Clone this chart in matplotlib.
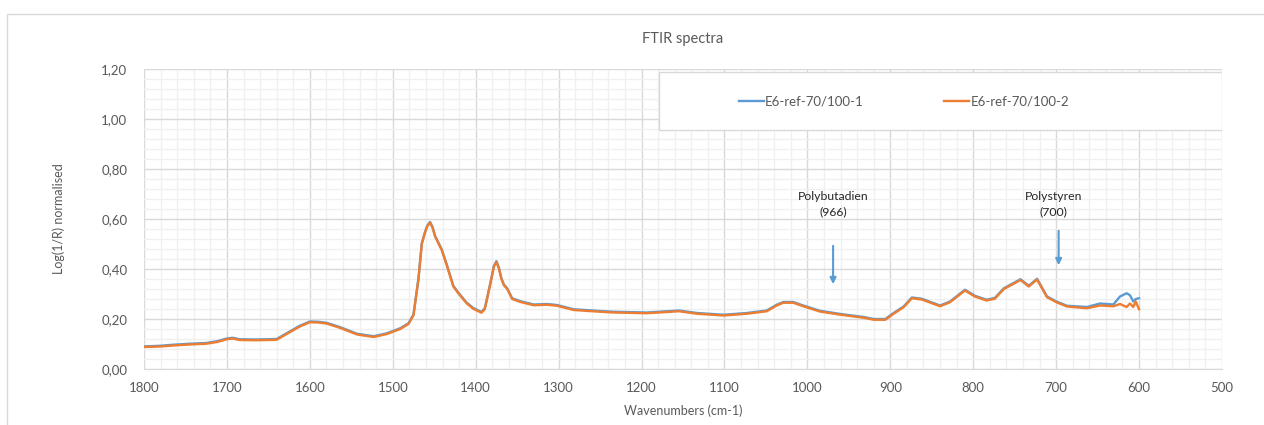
import matplotlib.pyplot as plt
import numpy as np
from matplotlib.patches import Rectangle
from matplotlib.ticker import MultipleLocator, FuncFormatter

# wavenumbers (cm-1), descending
wavenumber = [1800, 1780, 1765, 1745, 1725, 1712, 1700, 1693, 1685, 1665, 1650, 1640,
              1628, 1612, 1600, 1590, 1580, 1564, 1543, 1523, 1507, 1491, 1481, 1475,
              1469, 1465, 1461, 1458, 1455, 1452, 1449, 1441, 1435, 1427, 1421, 1411, 1403, 1393,
              1389, 1383, 1378, 1375, 1372, 1369, 1366, 1362, 1356, 1346, 1330, 1314, 1302, 1282,
              1250, 1234, 1194, 1174, 1155, 1133, 1101, 1073, 1049, 1037, 1029, 1017,
              1005, 985, 960, 932, 920, 906, 896, 884, 874, 862, 840, 828,
              810, 798, 784, 774, 763, 743, 733, 723, 711, 699, 687, 663,
              647, 631, 623, 615, 611, 607, 604, 600]

sample_1 = [0.090, 0.093, 0.097, 0.101, 0.104, 0.111, 0.122, 0.125, 0.119, 0.118, 0.119, 0.120,
            0.143, 0.173, 0.190, 0.189, 0.185, 0.168, 0.141, 0.131, 0.143, 0.163, 0.183, 0.218,
            0.363, 0.503, 0.550, 0.576, 0.588, 0.568, 0.533, 0.479, 0.419, 0.333, 0.306, 0.266, 0.244, 0.228,
            0.243, 0.333, 0.413, 0.431, 0.405, 0.363, 0.338, 0.323, 0.283, 0.271, 0.258, 0.260, 0.256, 0.239,
            0.232, 0.229, 0.226, 0.230, 0.234, 0.224, 0.217, 0.224, 0.234, 0.257, 0.268, 0.268,
            0.254, 0.233, 0.220, 0.208, 0.200, 0.200, 0.224, 0.250, 0.286, 0.281, 0.254, 0.270,
            0.317, 0.293, 0.277, 0.284, 0.323, 0.359, 0.333, 0.361, 0.290, 0.269, 0.253, 0.248,
            0.262, 0.258, 0.290, 0.303, 0.295, 0.270, 0.280, 0.283]

sample_2 = [0.088, 0.090, 0.094, 0.098, 0.101, 0.108, 0.119, 0.122, 0.116, 0.115, 0.116, 0.117,
            0.140, 0.170, 0.187, 0.186, 0.182, 0.165, 0.138, 0.128, 0.140, 0.160, 0.180, 0.215,
            0.360, 0.500, 0.547, 0.573, 0.585, 0.565, 0.530, 0.476, 0.416, 0.330, 0.303, 0.263, 0.241, 0.225,
            0.240, 0.330, 0.410, 0.428, 0.402, 0.360, 0.335, 0.320, 0.280, 0.268, 0.255, 0.257, 0.253, 0.236,
            0.229, 0.226, 0.223, 0.227, 0.231, 0.221, 0.214, 0.221, 0.231, 0.254, 0.265, 0.265,
            0.251, 0.230, 0.217, 0.205, 0.197, 0.197, 0.221, 0.247, 0.283, 0.278, 0.251, 0.267,
            0.314, 0.290, 0.274, 0.281, 0.320, 0.356, 0.330, 0.358, 0.287, 0.266, 0.250, 0.243,
            0.254, 0.251, 0.260, 0.248, 0.262, 0.248, 0.270, 0.239]

series_names = ["E6-ref-70/100-1", "E6-ref-70/100-2"]
annotations = [("Polybutadien\n(966)", 966), ("Polystyren\n(700)", 700)]

plt.rcParams["font.family"] = ["Lato", "DejaVu Sans"]
grey = "#595959"

fig = plt.figure(figsize=(12.64, 4.25), dpi=100)
ax = fig.add_axes([144 / 1264, 1 - 369 / 425, 1078 / 1264, 300 / 425])

# outer chart border
fig.patches.append(Rectangle((7 / 1264, -0.1), 1.2, 1.1 - 14 / 425, transform=fig.transFigure,
                             fill=False, edgecolor="#D9D9D9", linewidth=1))

ax.plot(wavenumber, sample_1, color="#5B9BD5", linewidth=1.7, label=series_names[0], zorder=3)
ax.plot(wavenumber, sample_2, color="#ED7D31", linewidth=1.7, label=series_names[1], zorder=4)

ax.set_xlim(1800, 500)
ax.set_ylim(0, 1.2)
ax.xaxis.set_major_locator(MultipleLocator(100))
ax.xaxis.set_minor_locator(MultipleLocator(20))
ax.yaxis.set_major_locator(MultipleLocator(0.2))
ax.yaxis.set_minor_locator(MultipleLocator(0.04))
ax.yaxis.set_major_formatter(FuncFormatter(lambda v, p: f"{v:.2f}".replace(".", ",")))
ax.grid(True, which="major", color="#D9D9D9", linewidth=1)
ax.grid(True, which="minor", color="#F0F0F0", linewidth=1)
ax.set_axisbelow(True)
for side in ["top", "right", "left"]:
    ax.spines[side].set_visible(False)
ax.spines["bottom"].set_color("#D9D9D9")
ax.tick_params(which="both", length=0, colors=grey, labelsize=9.5)
ax.tick_params(axis="x", pad=9)
ax.tick_params(axis="y", pad=12)

ax.set_title("FTIR spectra", fontsize=10.5, color=grey, pad=19)
ax.set_xlabel("Wavenumbers (cm-1)", fontsize=9, color=grey, labelpad=8)
ax.set_ylabel("Log(1/R) normalised", fontsize=9, color=grey, labelpad=26)

# peak markers
for text, wn in annotations:
    ax.text(wn + 3, 0.66, text, ha="center", va="center", fontsize=8.8, color="#262626",
            linespacing=1.4)
ax.annotate("", xy=(969, 0.328), xytext=(969, 0.504),
            arrowprops=dict(arrowstyle="-|>", color="#5B9BD5", lw=1.5, mutation_scale=9))
ax.annotate("", xy=(697, 0.404), xytext=(697, 0.564),
            arrowprops=dict(arrowstyle="-|>", color="#5B9BD5", lw=1.5, mutation_scale=9))

# legend box
ax.add_patch(Rectangle((0.478, 0.797), 0.522, 0.193, transform=ax.transAxes,
                       facecolor="white", edgecolor="#D9D9D9", linewidth=1, zorder=5))
leg = ax.legend(loc="center", bbox_to_anchor=(0.705, 0.89), ncol=2,
                frameon=False, fontsize=9.5, handlelength=1.9, handletextpad=0.1,
                columnspacing=6.1)
leg.set_zorder(6)
for t in leg.get_texts():
    t.set_color(grey)

fig.savefig("out.png", dpi=100)
